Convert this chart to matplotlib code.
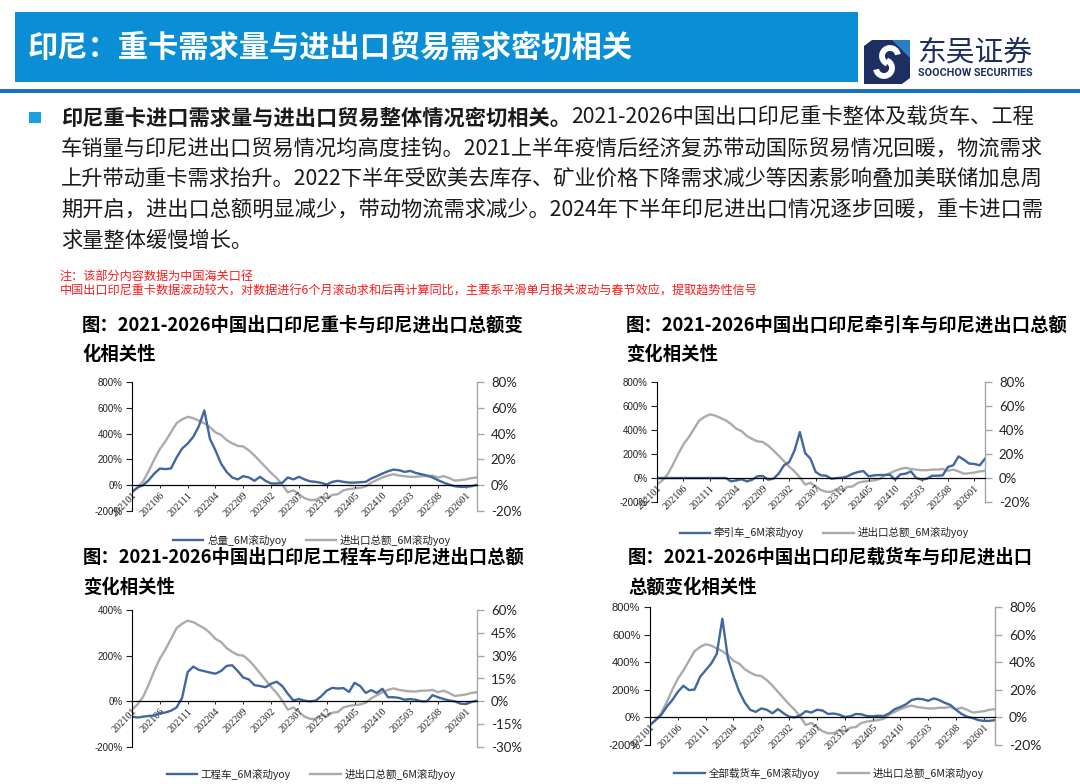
import matplotlib
matplotlib.use('Agg')
import matplotlib.pyplot as plt
from matplotlib.ticker import FuncFormatter, MultipleLocator
from matplotlib.patches import Rectangle, Polygon, Arc
import numpy as np

plt.rcParams['font.family'] = ['Noto Sans CJK SC', 'DejaVu Sans']

# ---------------- data ----------------
months = ['202101', '202102', '202103', '202104', '202105', '202106', '202107', '202108', '202109', '202110',
          '202111', '202112', '202201', '202202', '202203', '202204', '202205', '202206', '202207', '202208',
          '202209', '202210', '202211', '202212', '202301', '202302', '202303', '202304', '202305', '202306',
          '202307', '202308', '202309', '202310', '202311', '202312', '202401', '202402', '202403', '202404',
          '202405', '202406', '202407', '202408', '202409', '202410', '202411', '202412', '202501', '202502',
          '202503', '202504', '202505', '202506', '202507', '202508', '202509', '202510', '202511', '202512',
          '202601', '202602', '202603']
tick_labels = months[::5]

# 进出口总额_6M滚动yoy (%), right axis, shared by all four charts
trade_yoy = [-5.5, -2, 3, 11, 20, 28, 34, 41, 48, 51, 53, 52, 50, 48, 45, 41, 39, 35, 32.5, 30.5,
             30, 27, 23, 18.5, 14, 9.5, 5.5, 0.5, -5.5, -4, -7, -10, -11.5, -11.5, -9, -10, -7.5, -7, -4, -3,
             -2.5, -2, -1, 2, 4, 6, 7.5, 8.5, 7.5, 7, 6.5, 6.5, 7, 7, 7.5, 6, 7, 5.5, 3.5, 4,
             4.5, 5.5, 6]

# 总量_6M滚动yoy (%)
total_yoy = [-52, -18, 0, 39, 90, 129, 125, 130, 214, 284, 322, 374, 456, 580, 360, 270, 168, 103, 60, 45,
             70, 60, 34, 65, 34, 13, 13, 18, 60, 45, 65, 45, 30, 26, 18, 5, 26, 34, 26, 20,
             20, 23, 26, 52, 70, 90, 108, 121, 116, 103, 111, 95, 85, 75, 60, 39, 20, 5, -8, -13,
             -13, -8, 3]

# 牵引车_6M滚动yoy (%)
tractor_yoy = [0, 0, 0, 0, 0, 0, 0, 0, 0, 0, 0, 0, 0, 0, -28, -19, -11, -28, -14, 14,
               17, -14, -6, 36, 106, 133, 230, 383, 208, 161, 50, 22, 19, -6, 0, 3, 14, 36, 50, 58,
               14, 22, 25, 25, 28, -14, 30, 36, 55, 0, -14, -6, 19, 19, 22, 92, 106, 180, 153, 120,
               117, 106, 161]

# 工程车_6M滚动yoy (%)
construction_yoy = [-67, -71, -67, -64, -62, -52, -49, -41, -27, 15, 128, 152, 138, 132, 126, 121, 133, 155, 158, 133,
                    104, 96, 71, 67, 62, 77, 86, 67, 33, 4, 10, 3, 0, 3, 22, 47, 59, 56, 58, 41,
                    81, 67, 37, 49, 37, 55, 18, 18, 15, 7, 10, 7, 0, 0, 27, 18, 10, 4, 0, -10,
                    -12, -3, 3]

# 全部载货车_6M滚动yoy (%)
cargo_yoy = [-55, -20, 17, 77, 125, 185, 229, 198, 202, 294, 342, 390, 460, 715, 430, 300, 190, 110, 55, 40,
             65, 55, 30, 60, 30, 5, 0, 15, 45, 35, 55, 50, 25, 28, 20, 3, 8, 25, 22, 10,
             8, 12, 10, 30, 60, 75, 95, 125, 135, 132, 120, 138, 125, 105, 90, 55, 25, 5, -5, -20,
             -25, -25, -20]

trade_label = '进出口总额_6M滚动yoy'

# ---------------- layout helpers ----------------
W, H = 1080, 784
fig = plt.figure(figsize=(10.8, 7.84), dpi=100)
fig.patch.set_facecolor('white')
renderer = fig.canvas.get_renderer()


def fx(x):
    return x / W


def fy(y):
    return 1 - y / H


def tw(t):
    return t.get_window_extent(renderer=renderer).width


def put(x, y, s, size, width=None, **kw):
    t = fig.text(fx(x), fy(y), s, fontsize=size, va='center', **kw)
    if width:
        t.set_fontsize(size * width / tw(t))
    return t


BLUE = '#41679E'
GRAY = '#ABABAB'
TXT = '#1A1A1A'

# ---------------- header ----------------
fig.add_artist(Rectangle((fx(15), fy(82)), 843 / W, 70 / H, transform=fig.transFigure,
                         facecolor='#0A8FD6', edgecolor='none'))
put(28, 48, '印尼：重卡需求量与进出口贸易需求密切相关', 22, width=605, color='white', fontweight='bold')
fig.add_artist(Rectangle((0, fy(93)), 1, 4 / H, transform=fig.transFigure,
                         facecolor='#1A6FC0', edgecolor='none'))

# logo
lax = fig.add_axes([fx(864), fy(84), 46 / W, 44 / H])
lax.set_xlim(0, 46)
lax.set_ylim(0, 44)
lax.axis('off')
lax.add_patch(Polygon([[0, 0], [38, 0], [46, 6], [46, 44], [8, 44], [0, 38]], closed=True,
                      facecolor='#1C2F60', edgecolor='none'))
lax.add_patch(Polygon([[28, 44], [46, 44], [46, 26]], closed=True, facecolor='#2A7FC4', edgecolor='none'))
lax.add_patch(Arc((26, 28), 16, 16, theta1=10, theta2=250, color='white', lw=4.2))
lax.add_patch(Arc((20, 16), 16, 16, theta1=190, theta2=70, color='white', lw=4.2))
put(918, 53, '东吴证券', 20, width=115, color='#1C2F60')
put(918, 73, 'SOOCHOW SECURITIES', 7, width=114, color='#1C2F60', fontweight='bold', family='Roboto')

# ---------------- body text ----------------
fig.add_artist(Rectangle((fx(29), fy(123)), 12 / W, 11 / H, transform=fig.transFigure,
                         facecolor='#1BA1E2', edgecolor='none'))
body_lines = [
    '车销量与印尼进出口贸易情况均高度挂钩。2021上半年疫情后经济复苏带动国际贸易情况回暖，物流需求',
    '上升带动重卡需求抬升。2022下半年受欧美去库存、矿业价格下降需求减少等因素影响叠加美联储加息周',
    '期开启，进出口总额明显减少，带动物流需求减少。2024年下半年印尼进出口情况逐步回暖，重卡进口需',
    '求量整体缓慢增长。',
]
probe = put(61, 148, body_lines[0], 15, width=984, color=TXT)
bsize = probe.get_fontsize()
probe.remove()
line_y = [118, 148.5, 179, 210, 240.5]
b1 = put(61, line_y[0], '印尼重卡进口需求量与进出口贸易整体情况密切相关。', bsize, color=TXT, fontweight='bold')
x_after = 61 + tw(b1)
put(x_after, line_y[0], '2021-2026中国出口印尼重卡整体及载货车、工程', bsize, color=TXT)
for i, s in enumerate(body_lines):
    put(61, line_y[i + 1], s, bsize, color=TXT)

# red notes
n2 = put(60, 291, '中国出口印尼重卡数据波动较大，对数据进行6个月滚动求和后再计算同比，主要系平滑单月报关波动与春节效应，提取趋势性信号',
         9, width=700, color='#FF1A1A')
put(60, 276, '注：该部分内容数据为中国海关口径', n2.get_fontsize(), color='#FF1A1A')

# ---------------- chart titles ----------------
TS = 13.2
put(82, 325, '图：2021-2026中国出口印尼重卡与印尼进出口总额变', TS, color='black', fontweight='bold')
put(82, 354, '化相关性', TS, color='black', fontweight='bold')
put(626, 325, '图：2021-2026中国出口印尼牵引车与印尼进出口总额', TS, color='black', fontweight='bold')
put(626, 354, '变化相关性', TS, color='black', fontweight='bold')
put(83, 557, '图：2021-2026中国出口印尼工程车与印尼进出口总额', TS, color='black', fontweight='bold')
put(83, 587, '变化相关性', TS, color='black', fontweight='bold')
put(628, 557, '图：2021-2026中国出口印尼载货车与印尼进出口', TS, color='black', fontweight='bold')
put(628, 587, '总额变化相关性', TS, color='black', fontweight='bold')

pct = FuncFormatter(lambda v, p: f'{v:.0f}%')


def make_chart(rect, blue, blue_label, lyl, lstep, ryl, rstep, leg_xy, lsize=7.0, rsize=9.5):
    x0, y0, x1, y1 = rect
    ax = fig.add_axes([fx(x0), fy(y1), (x1 - x0) / W, (y1 - y0) / H])
    ax2 = ax.twinx()
    ax.set_zorder(ax2.get_zorder() + 1)
    ax.patch.set_visible(False)
    xs = np.arange(len(months))
    l1, = ax.plot(xs, blue, color=BLUE, lw=1.7, label=blue_label, solid_joinstyle='round')
    l2, = ax2.plot(xs, trade_yoy, color=GRAY, lw=1.7, label=trade_label, solid_joinstyle='round')
    ax.set_xlim(0, len(months) - 1)
    ax.set_ylim(*lyl)
    ax.yaxis.set_major_locator(MultipleLocator(lstep))
    ax.yaxis.set_major_formatter(pct)
    ax2.set_ylim(*ryl)
    ax2.yaxis.set_major_locator(MultipleLocator(rstep))
    ax2.yaxis.set_major_formatter(pct)
    ax.spines['bottom'].set_position(('data', 0))
    ax.spines['bottom'].set_linewidth(0.9)
    ax.spines['bottom'].set_color('black')
    ax.spines['left'].set_color('black')
    ax.spines['left'].set_linewidth(0.8)
    for s in ['top', 'right']:
        ax.spines[s].set_visible(False)
    for s in ['top', 'left', 'bottom']:
        ax2.spines[s].set_visible(False)
    ax2.spines['right'].set_color('#A6A6A6')
    ax2.spines['right'].set_linewidth(1.0)
    ax.set_xticks(xs[::5])
    ax.set_xticklabels(tick_labels, rotation=45, ha='right', va='top', rotation_mode='anchor',
                       fontsize=7.3, family='Liberation Serif', color='#222222')
    ax.tick_params(axis='x', length=2, width=0.6, pad=2)
    ax.tick_params(axis='y', direction='out', length=4, width=0.8, labelsize=lsize, colors='#222222', pad=3)
    for lb in ax.get_yticklabels():
        lb.set_family('Liberation Sans')
    ax2.tick_params(axis='y', direction='out', length=5, width=1.0, color='#A6A6A6',
                    labelsize=rsize, labelcolor='#222222', pad=5)
    for lb in ax2.get_yticklabels():
        lb.set_family('Lato')
    fig.legend(handles=[l1, l2], loc='center', bbox_to_anchor=(fx(leg_xy[0]), fy(leg_xy[1])),
               ncol=2, frameon=False, fontsize=7.6, handlelength=2.9, columnspacing=1.8,
               handletextpad=0.35, labelcolor='#222222')
    return ax, ax2


make_chart((132, 382, 477, 511), total_yoy, '总量_6M滚动yoy', (-200, 800), 200, (-20, 80), 20, (312, 540))
make_chart((657, 382, 985, 502), tractor_yoy, '牵引车_6M滚动yoy', (-200, 800), 200, (-20, 80), 20, (824, 533))
make_chart((132, 610, 477, 747), construction_yoy, '工程车_6M滚动yoy', (-200, 400), 200, (-30, 60), 15, (311, 774))
make_chart((650, 607, 995, 745), cargo_yoy, '全部载货车_6M滚动yoy', (-200, 800), 200, (-20, 80), 20, (829, 773),
           lsize=8.0, rsize=10.0)

fig.savefig('out.png', dpi=100)
